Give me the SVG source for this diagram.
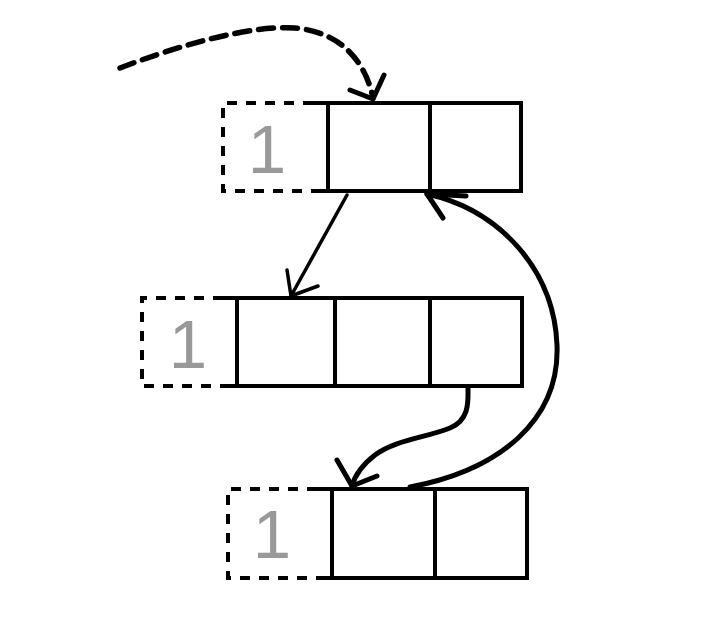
<svg xmlns="http://www.w3.org/2000/svg" width="722" height="622" viewBox="0 0 722 622">
<style>
.dash{fill:none;stroke:#000;stroke-width:4;stroke-dasharray:10,9}
.box{fill:#fff;stroke:#000;stroke-width:4}
.ln{stroke:#000;stroke-width:4}
.num{font-family:"Liberation Sans",Arial,sans-serif;font-size:69px;fill:#999;text-anchor:middle}
.c{fill:none;stroke:#000;stroke-width:5;stroke-linecap:round;stroke-linejoin:round}
</style>
<rect width="722" height="622" fill="#fff"/>
<g id="node-top">
<path class="dash" d="M313,103 H223 V191 H313"/>
<line class="ln" x1="313" y1="103" x2="328" y2="103"/>
<line class="ln" x1="313" y1="191" x2="328" y2="191"/>
<rect class="box" x="328" y="103" width="193" height="88"/>
<line class="ln" x1="430" y1="103" x2="430" y2="191"/>
<text class="num" x="267" y="173">1</text>
</g>
<g id="node-middle">
<path class="dash" d="M223,298 H142 V386 H223"/>
<line class="ln" x1="223" y1="298" x2="237" y2="298"/>
<line class="ln" x1="223" y1="386" x2="237" y2="386"/>
<rect class="box" x="237" y="298" width="285" height="88"/>
<line class="ln" x1="335" y1="298" x2="335" y2="386"/>
<line class="ln" x1="430" y1="298" x2="430" y2="386"/>
<text class="num" x="188" y="368">1</text>
</g>
<g id="node-bottom">
<path class="dash" d="M317,489 H228 V578 H317"/>
<line class="ln" x1="317" y1="489" x2="332" y2="489"/>
<line class="ln" x1="317" y1="578" x2="332" y2="578"/>
<rect class="box" x="332" y="489" width="195" height="89"/>
<line class="ln" x1="435" y1="489" x2="435" y2="578"/>
<text class="num" x="272" y="558">1</text>
</g>
<g id="connectors">
<path class="c" style="stroke-width:5.5" d="M120,68 C180,45 250,25 295,28 C340,32 365,60 373,98" stroke-dasharray="15,9" stroke-linecap="butt"/>
<path class="c" d="M350,90 L373,99 L384,75"/>
<path class="c" style="stroke-width:3.5" d="M347,195 L291,296"/>
<path class="c" style="stroke-width:3.5" d="M287,270 L291,296 L318,286"/>
<path class="c" d="M468,389 C468,400 470,420 450,428 C425,438 395,440 375,455 C362,465 355,475 352,486"/>
<path class="c" d="M337,460 L352,486 L377,476"/>
<path class="c" d="M410,487 C500,470 560,420 557,345 C554,270 500,210 427,194"/>
<path class="c" d="M443,218 L427,194 L466,196"/>
</g>
</svg>
